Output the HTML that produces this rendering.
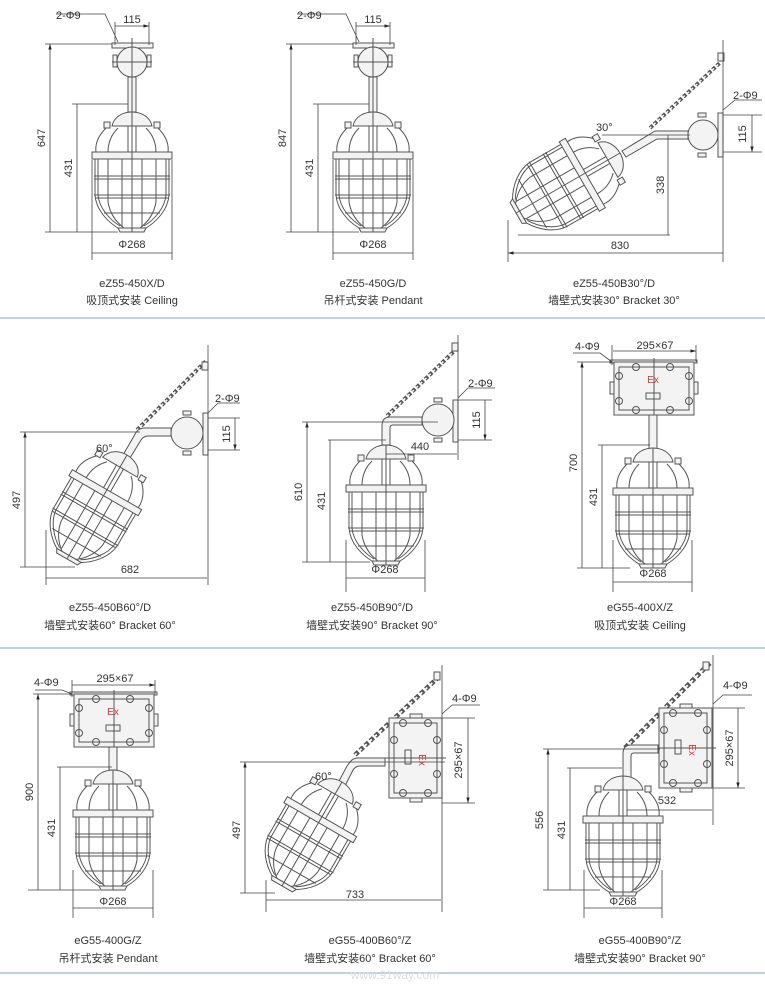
<!DOCTYPE html>
<html><head><meta charset="utf-8"><style>
html,body{margin:0;padding:0;background:#fff}
svg{display:block}
text{font-family:"Liberation Sans","Noto Sans CJK SC",sans-serif;fill:#333;font-size:11px}
.l{stroke:#555;stroke-width:1;fill:none}
.f{stroke:#555;stroke-width:1;fill:#f3f3f3}
.d{stroke:#444;stroke-width:.8;fill:none}
.c{text-anchor:middle}
</style></head><body>
<svg width="765" height="988" viewBox="0 0 765 988" xmlns="http://www.w3.org/2000/svg">
<defs>
<marker id="a" viewBox="0 0 10 10" refX="10" refY="5" markerWidth="7" markerHeight="7" orient="auto-start-reverse"><path d="M0,2 L10,5 L0,8 z" fill="#222"/></marker>
<g id="lamp">
 <path class="f" d="M-20,14 C-18,4 -8,0 0,0 C8,0 18,4 20,14 Z"/>
 <rect class="f" x="-28" y="10" width="6" height="6"/><rect class="f" x="22" y="10" width="6" height="6"/>
 <path class="l" d="M-26,16 C-34,24 -37,32 -36,40 M26,16 C34,24 37,32 36,40"/>
 <path class="l" d="M-14,16 C-22,24 -24,32 -24,40 M14,16 C22,24 24,32 24,40 M-4,14 L-4,40 M4,14 L4,40"/>
 <path class="l" d="M-37,47 L-37,83 C-36,98 -24,110 -14,116 L14,116 C24,110 36,98 37,83 L37,47"/>
 <path class="l" d="M-34,47 L-34,83 C-33,96 -22,108 -12,114 M34,47 L34,83 C33,96 22,108 12,114"/>
 <path class="l" d="M-24,47 L-24,90 C-22,102 -16,110 -8,116 M24,47 L24,90 C22,102 16,110 8,116 M-10,47 L-10,114 M10,47 L10,114"/>
 <rect class="f" x="-40" y="40" width="80" height="7"/>
 <path class="l" d="M-38,64 H38 M-38,67 H38 M-38,83 H38 M-37,86 H37 M-28,101 H28"/>
 <path class="f" d="M-14,116 L14,116 L12,120 L-12,120 Z"/>
 <path class="l" d="M0,0 V120" stroke-width=".6"/>
</g>
<g id="box">
 <rect class="f" x="0" y="0" width="80" height="53"/>
 <path class="l" d="M5,5 h70 v43 h-70 z"/>
 <rect class="f" x="-4" y="20" width="4" height="12"/><rect class="f" x="80" y="20" width="4" height="12"/>
 <g class="l">
 <circle cx="22" cy="5" r="3.5"/><circle cx="56" cy="5" r="3.5"/><circle cx="22" cy="48" r="3.5"/><circle cx="56" cy="48" r="3.5"/>
 <circle cx="5" cy="14" r="3.5"/><circle cx="75" cy="14" r="3.5"/><circle cx="5" cy="39" r="3.5"/><circle cx="75" cy="39" r="3.5"/>
 </g>
 <rect class="l" x="32" y="31" width="14" height="6"/>
 <path class="l" d="M40,-4 V57" stroke-width=".6"/>
</g>
<g id="chain"><path d="M0,0 L100,0" stroke="#555" stroke-width="4" stroke-dasharray="4,2" fill="none"/><path d="M0,0 L100,0" stroke="#fff" stroke-width="1.5" stroke-dasharray="2,4" fill="none"/></g>
<g id="p1">
 <rect class="f" x="112" y="43" width="41" height="5"/>
 <rect class="f" x="113" y="55" width="4" height="12"/><rect class="f" x="147" y="55" width="4" height="12"/>
 <circle class="f" cx="132" cy="62" r="15"/>
 <rect class="f" x="128" y="77" width="8" height="35"/>
 <path class="l" d="M132,38 V112 M112,62 H152" stroke-width=".6"/>
 <use href="#lamp" x="132" y="112"/>
</g>
</defs>

<!-- Panel 1 -->
<use href="#p1"/>
<g class="d">
<path d="M45,44 H112 M72,104 H128 M45,232 H118 M92,160 V260 M172,160 V260 M115,45 V22 M149,45 V22 M56,14 H105 L118,42"/>
<path d="M50,44 V232 M77,104 V232 M92,253 H172 M115,26 H149" marker-start="url(#a)" marker-end="url(#a)"/>
</g>
<text x="132" y="23" class="c">115</text><text x="56" y="19">2-Φ9</text>
<text transform="translate(45,138) rotate(-90)" class="c">647</text>
<text transform="translate(72,168) rotate(-90)" class="c">431</text>
<text x="132" y="248" class="c">Φ268</text>
<text x="132" y="287" class="c">eZ55-450X/D</text><text x="132" y="304" class="c">吸顶式安装 Ceiling</text>

<!-- Panel 2 -->
<use href="#p1" x="241"/>
<g class="d">
<path d="M286,44 H353 M313,104 H369 M286,232 H359 M333,160 V260 M413,160 V260 M356,45 V22 M390,45 V22 M297,14 H346 L359,42"/>
<path d="M291,44 V232 M318,104 V232 M333,253 H413 M356,26 H390" marker-start="url(#a)" marker-end="url(#a)"/>
</g>
<text x="373" y="23" class="c">115</text><text x="297" y="19">2-Φ9</text>
<text transform="translate(286,138) rotate(-90)" class="c">847</text>
<text transform="translate(313,168) rotate(-90)" class="c">431</text>
<text x="373" y="248" class="c">Φ268</text>
<text x="373" y="287" class="c">eZ55-450G/D</text><text x="373" y="304" class="c">吊杆式安装 Pendant</text>

<!-- Panel 3 -->
<g>
<use href="#chain" transform="translate(650,128) rotate(-43) scale(0.95)"/>
<rect class="f" x="718" y="53" width="6" height="8"/>
<rect class="f" x="718" y="113" width="5" height="44"/>
<rect class="f" x="698" y="113" width="8" height="4"/><rect class="f" x="698" y="153" width="8" height="4"/>
<circle class="f" cx="703" cy="135" r="15"/>
<path class="f" d="M688,131 L655,131 L622,151 L626,157 L657,139 L688,139 Z"/>
<use href="#lamp" transform="translate(620,153) rotate(60)"/>
</g>
<g class="d">
<path d="M723,40 V262 M602,135 H690 M518,235 H670 M508,220 V262 M723,115 H762 M723,152 H762 M723,110 L735,100 H762"/>
<path d="M508,253 H723 M668,135 V235 M752,115 V152" marker-start="url(#a)" marker-end="url(#a)"/>
</g>
<text x="733" y="99">2-Φ9</text><text x="596" y="131">30°</text>
<text transform="translate(746,134) rotate(-90)" class="c">115</text>
<text transform="translate(664,185) rotate(-90)" class="c">338</text>
<text x="620" y="249" class="c">830</text>
<text x="614" y="287" class="c">eZ55-450B30°/D</text><text x="614" y="304" class="c">墙壁式安装30°  Bracket 30°</text>

<line x1="0" y1="318" x2="765" y2="318" stroke="#a8c3d8" stroke-width="1.5"/>

<!-- Panel 4 -->
<g>
<use href="#chain" transform="translate(137,430) rotate(-45) scale(0.97)"/>
<rect class="f" x="202" y="362" width="6" height="8"/>
<rect class="f" x="203" y="413" width="5" height="42"/>
<rect class="f" x="183" y="411" width="8" height="4"/><rect class="f" x="183" y="451" width="8" height="4"/>
<circle class="f" cx="187" cy="433" r="16"/>
<path class="f" d="M171,428 L145,428 C138,428 136,432 134,436 L123,455 L130,458 L141,440 C143,437 145,436 148,436 L171,436 Z"/>
<use href="#lamp" transform="translate(127,455) rotate(30)"/>
</g>
<g class="d">
<path d="M208,345 V585 M20,432 H140 M20,567 H75 M46,530 V585 M208,418 H240 M208,450 H240 M208,413 L218,403 H240"/>
<path d="M25,432 V567 M46,578 H207 M235,418 V450" marker-start="url(#a)" marker-end="url(#a)"/>
</g>
<text x="215" y="402">2-Φ9</text><text x="96" y="452">60°</text>
<text transform="translate(230,434) rotate(-90)" class="c">115</text>
<text transform="translate(20,500) rotate(-90)" class="c">497</text>
<text x="130" y="573" class="c">682</text>
<text x="110" y="611" class="c">eZ55-450B60°/D</text><text x="110" y="629" class="c">墙壁式安装60°  Bracket 60°</text>

<!-- Panel 5 -->
<g>
<use href="#chain" transform="translate(387,416) rotate(-44) scale(0.98)"/>
<rect class="f" x="452" y="343" width="6" height="8"/>
<rect class="f" x="453" y="400" width="5" height="42"/>
<rect class="f" x="434" y="398" width="8" height="4"/><rect class="f" x="434" y="438" width="8" height="4"/>
<circle class="f" cx="438" cy="420" r="16"/>
<path class="f" d="M422,417 L390,417 C384,417 382,421 382,426 L382,445 L390,445 L390,428 C390,426 391,425 393,425 L422,425 Z"/>
<use href="#lamp" x="386" y="445"/>
</g>
<g class="d">
<path d="M458,335 V460 M302,422 H438 M328,440 H386 M302,562 H370 M346,540 V592 M425,540 V592 M458,400 H492 M458,440 H492 M458,398 L468,388 H495"/>
<path d="M307,422 V562 M330,440 V562 M346,578 H425 M386,454 H457 M485,400 V440" marker-start="url(#a)" marker-end="url(#a)"/>
</g>
<text x="468" y="387">2-Φ9</text>
<text transform="translate(480,420) rotate(-90)" class="c">115</text>
<text transform="translate(302,492) rotate(-90)" class="c">610</text>
<text transform="translate(325,501) rotate(-90)" class="c">431</text>
<text x="420" y="450" class="c">440</text>
<text x="385" y="573" class="c">Φ268</text>
<text x="372" y="611" class="c">eZ55-450B90°/D</text><text x="372" y="629" class="c">墙壁式安装90°  Bracket 90°</text>

<!-- Panel 6 -->
<rect class="f" x="610" y="360" width="87" height="3"/>
<use href="#box" x="614" y="362"/>
<text x="653" y="383" class="c" style="fill:#d33;font-size:10px">Ex</text>
<rect class="f" x="649" y="415" width="8" height="35"/>
<use href="#lamp" x="653" y="448"/>
<g class="d">
<path d="M577,362 H612 M598,445 H650 M577,568 H630 M613,540 V592 M692,540 V592 M612,365 V345 M696,362 V345 M573,353 H600 L612,362"/>
<path d="M582,362 V568 M602,445 V568 M613,582 H692 M613,351 H696" marker-start="url(#a)" marker-end="url(#a)"/>
</g>
<text x="575" y="350">4-Φ9</text><text x="655" y="349" class="c">295×67</text>
<text transform="translate(577,463) rotate(-90)" class="c">700</text>
<text transform="translate(597,497) rotate(-90)" class="c">431</text>
<text x="653" y="577" class="c">Φ268</text>
<text x="640" y="611" class="c">eG55-400X/Z</text><text x="640" y="629" class="c">吸顶式安装 Ceiling</text>

<line x1="0" y1="648" x2="765" y2="648" stroke="#a8c3d8" stroke-width="1.5"/>

<!-- Panel 7 -->
<rect class="f" x="70" y="692" width="87" height="3"/>
<use href="#box" x="74" y="694"/>
<text x="113" y="715" class="c" style="fill:#d33;font-size:10px">Ex</text>
<rect class="f" x="109" y="747" width="8" height="23"/>
<use href="#lamp" x="113" y="770"/>
<g class="d">
<path d="M33,694 H72 M57,767 H112 M28,890 H100 M73,870 V918 M153,870 V918 M72,697 V680 M155,694 V680 M35,690 H62 L72,694"/>
<path d="M38,694 V890 M60,767 V890 M73,908 H153 M72,685 H155" marker-start="url(#a)" marker-end="url(#a)"/>
</g>
<text x="34" y="686">4-Φ9</text><text x="115" y="682" class="c">295×67</text>
<text transform="translate(33,792) rotate(-90)" class="c">900</text>
<text transform="translate(55,828) rotate(-90)" class="c">431</text>
<text x="113" y="905" class="c">Φ268</text>
<text x="108" y="944" class="c">eG55-400G/Z</text><text x="108" y="962" class="c">吊杆式安装 Pendant</text>

<!-- Panel 8 -->
<g>
<use href="#chain" transform="translate(355,755) rotate(-43) scale(1.15)"/>
<rect class="f" x="434" y="672" width="6" height="8"/>
<use href="#box" transform="translate(442,718) rotate(90)"/>
<text transform="translate(419,760) rotate(90)" class="c" style="fill:#d33;font-size:10px">Ex</text>
<path class="f" d="M385,758 L358,758 C352,758 350,762 347,766 L338,783 L345,786 L353,770 C355,767 357,766 360,766 L385,766 Z"/>
<use href="#lamp" transform="translate(342,782) rotate(30)"/>
</g>
<g class="d">
<path d="M442,665 V912 M240,762 H445 M240,893 H275 M266,880 V912 M442,718 H475 M442,803 H475 M442,714 L452,705 H480"/>
<path d="M245,762 V893 M266,900 H441 M468,718 V803" marker-start="url(#a)" marker-end="url(#a)"/>
</g>
<text x="452" y="702">4-Φ9</text><text x="315" y="780">60°</text>
<text transform="translate(462,760) rotate(-90)" class="c">295×67</text>
<text transform="translate(240,830) rotate(-90)" class="c">497</text>
<text x="355" y="898" class="c">733</text>
<text x="370" y="944" class="c">eG55-400B60°/Z</text><text x="370" y="962" class="c">墙壁式安装60°  Bracket 60°</text>

<!-- Panel 9 -->
<g>
<use href="#chain" transform="translate(625,748) rotate(-45) scale(1.2)"/>
<rect class="f" x="703" y="662" width="6" height="8"/>
<use href="#box" transform="translate(712,708) rotate(90)"/>
<text transform="translate(689,750) rotate(90)" class="c" style="fill:#d33;font-size:10px">Ex</text>
<path class="f" d="M658,745 L631,745 C625,745 623,749 623,754 L623,778 L631,778 L631,756 C631,754 632,753 634,753 L658,753 Z"/>
<use href="#lamp" x="623" y="776"/>
</g>
<g class="d">
<path d="M713,655 V825 M543,749 H660 M567,768 H622 M543,890 H600 M584,870 V918 M662,870 V918 M713,708 H745 M713,788 H745 M713,704 L723,695 H752"/>
<path d="M548,749 V890 M570,768 V890 M584,908 H662 M627,810 H712 M738,708 V788" marker-start="url(#a)" marker-end="url(#a)"/>
</g>
<text x="723" y="689">4-Φ9</text>
<text transform="translate(733,748) rotate(-90)" class="c">295×67</text>
<text transform="translate(543,820) rotate(-90)" class="c">556</text>
<text transform="translate(565,830) rotate(-90)" class="c">431</text>
<text x="667" y="804" class="c">532</text>
<text x="623" y="905" class="c">Φ268</text>
<text x="640" y="944" class="c">eG55-400B90°/Z</text><text x="640" y="962" class="c">墙壁式安装90°  Bracket 90°</text>

<line x1="0" y1="973" x2="765" y2="973" stroke="#a8c3d8" stroke-width="1.5"/>
<text x="395" y="979" class="c" style="fill:#ddd;font-size:12px">www.91way.com</text>
</svg>
</body></html>
